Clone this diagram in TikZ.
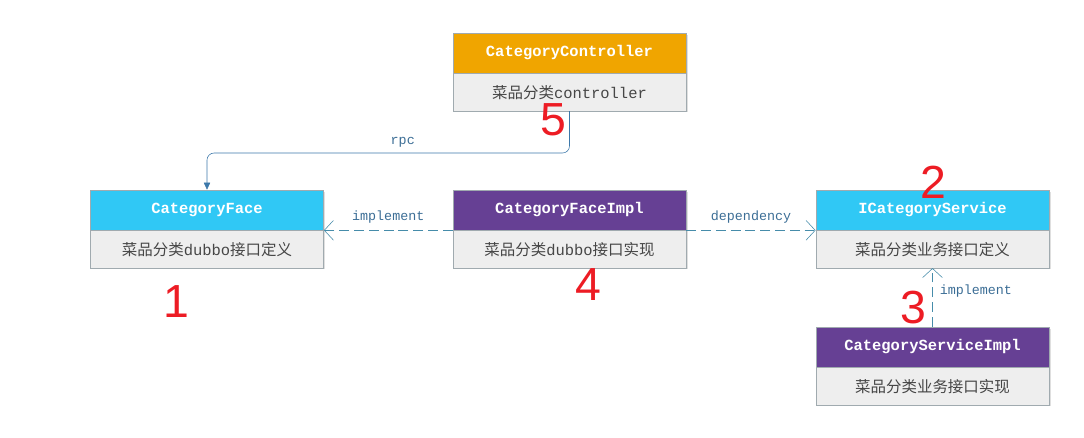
\documentclass[tikz,border=0pt]{standalone}
\usepackage{fontspec}
\setmainfont{Liberation Sans}
\setmonofont{Liberation Mono}
\newfontfamily\cjk{Noto Sans CJK SC}
\usetikzlibrary{positioning, arrows.meta, shadows}
\definecolor{headCyan}   {RGB}{ 48,200,245}
\definecolor{headOrange} {RGB}{240,165,  0}
\definecolor{headPurple} {RGB}{102, 64,148}
\definecolor{bodyFill}   {RGB}{238,238,238}
\definecolor{boxBd}      {RGB}{160,170,175}
\definecolor{bodyText}   {RGB}{ 70, 70, 70}
\definecolor{rpcBlue}    {RGB}{ 60,120,170}
\definecolor{depTeal}    {RGB}{ 70,140,170}
\definecolor{lblBlue}    {RGB}{ 60,110,150}
\definecolor{numRed}     {RGB}{237, 28, 36}
\newcommand{\zh}[1]{{\cjk #1}}
\tikzset{
  %% class header (coloured bar)
  head/.style={
    rectangle, minimum width=5.83cm, minimum height=1cm,
    inner sep=2pt, draw=boxBd, thin,
    font=\fontsize{11}{13}\selectfont\ttfamily\bfseries, text=white,
    drop shadow={shadow xshift=1.2pt, shadow yshift=-1.2pt, opacity=0.25}
  },
  headC/.style={head, fill=headCyan},
  headO/.style={head, fill=headOrange},
  headP/.style={head, fill=headPurple},
  %% class body (grey description)
  body/.style={
    rectangle, minimum width=5.83cm, minimum height=0.93cm,
    inner sep=2pt, draw=boxBd, thin, fill=bodyFill,
    font=\fontsize{11}{13}\selectfont\ttfamily, text=bodyText,
    drop shadow={shadow xshift=1.2pt, shadow yshift=-1.2pt, opacity=0.25}
  },
  %% rpc call arrow
  rpcArr/.style={
    -{Triangle[length=5pt,width=4.5pt]},
    thin, color=rpcBlue, rounded corners=5pt
  },
  %% implement / dependency arrow (dashed, open head)
  arrD/.style={
    -{Straight Barb[length=6.5pt,width=14pt]},
    thin, color=depTeal, dash pattern=on 7pt off 3.5pt
  },
  lbl/.style={
    font=\fontsize{9.5}{11}\selectfont\ttfamily, text=lblBlue,
    inner sep=2pt
  },
  num/.style={
    font=\fontsize{33}{35}\selectfont, text=numRed,
    inner sep=0pt, anchor=base
  }
}

\begin{document}
\begin{tikzpicture}[x=0.025cm, y=-0.025cm]

\fill[white] (0,0) rectangle (1084,437);
\useasboundingbox (0,0) rectangle (1084,437);

%% ═══════════════════════════════════════════════════════════
%%  CLASS BOXES
%% ═══════════════════════════════════════════════════════════

\node[headO] (ctrlHead) at (569.5, 53) {CategoryController};
\node[body, below=0pt of ctrlHead] (ctrlBody) {\zh{菜品分类}controller};

\node[headC] (faceHead) at (207, 210) {CategoryFace};
\node[body, below=0pt of faceHead] (faceBody) {\zh{菜品分类}dubbo\zh{接口定义}};

\node[headP] (faceImplHead) at (569.5, 210) {CategoryFaceImpl};
\node[body, below=0pt of faceImplHead] (faceImplBody) {\zh{菜品分类}dubbo\zh{接口实现}};

\node[headC] (svcHead) at (932.5, 210) {ICategoryService};
\node[body, below=0pt of svcHead] (svcBody) {\zh{菜品分类业务接口定义}};

\node[headP] (svcImplHead) at (932.5, 347) {CategoryServiceImpl};
\node[body, below=0pt of svcImplHead] (svcImplBody) {\zh{菜品分类业务接口实现}};

%% ═══════════════════════════════════════════════════════════
%%  CONNECTORS
%% ═══════════════════════════════════════════════════════════

%% controller -> face (rpc)
\coordinate (rpcLevel) at (0, 153);
\draw[rpcArr] (ctrlBody.south) |- node[lbl, pos=0.73, above=2pt] {rpc}
  (faceHead.north |- rpcLevel) -- (faceHead.north);

%% face impl -> face
\draw[arrD] (faceImplHead.south west) -- (faceHead.south east)
  node[lbl, midway, above=3pt] {implement};

%% face impl -> service
\draw[arrD] (faceImplHead.south east) -- (svcHead.south west)
  node[lbl, midway, above=3pt] {dependency};

%% service impl -> service
\draw[arrD] (svcImplHead.north) -- (svcBody.south)
  node[lbl, pos=0.6, right=3pt] {implement};

%% ═══════════════════════════════════════════════════════════
%%  RED NUMBERS
%% ═══════════════════════════════════════════════════════════

\node[num] (num1) at (176, 317) {1};
\node[num] (num2) at (933, 198) {2};
\node[num] (num3) at (913, 323) {3};
\node[num] (num4) at (588, 300) {4};
\node[num] (num5) at (553, 135) {5};

\end{tikzpicture}
\end{document}
